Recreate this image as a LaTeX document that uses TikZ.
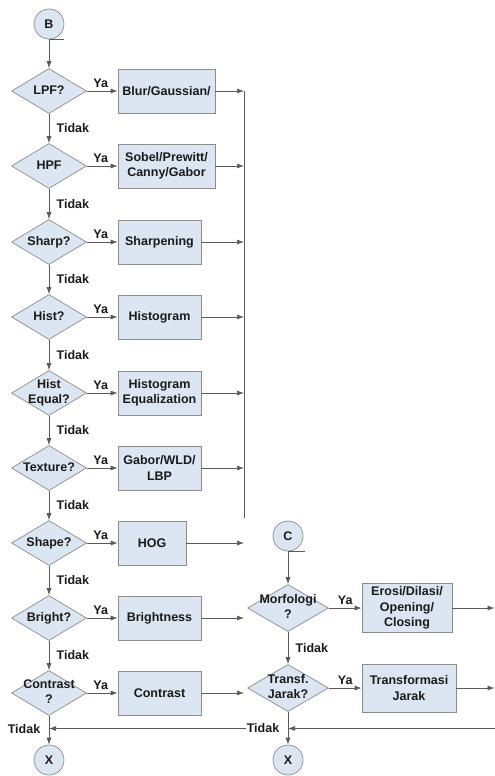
\documentclass[tikz,border=0pt]{standalone}
\usepackage{fontspec}
\setmainfont{Liberation Sans}
\usetikzlibrary{shapes.geometric,arrows.meta}
\definecolor{fillc}{HTML}{DCE6F2}
\definecolor{edgec}{HTML}{8C8C8C}
\definecolor{linec}{HTML}{5A5A5A}
\definecolor{txtc}{HTML}{1A1A1A}
\newcommand\zt[1]{\makebox[0pt]{\begin{tabular}{@{}c@{}}#1\end{tabular}}}
\begin{document}
\begin{tikzpicture}[x=1pt,y=-1pt,
  every node/.style={font=\fontsize{12.5}{15.5}\selectfont\bfseries, text=txtc},
  dec/.style={diamond, draw=edgec, fill=fillc, line width=0.7pt, inner sep=0pt, minimum width=75pt, minimum height=45pt},
  decr/.style={dec, minimum width=81pt, minimum height=47pt},
  proc/.style={rectangle, draw=edgec, fill=fillc, line width=0.7pt, inner sep=0pt, minimum height=44pt, align=center},
  conn/.style={circle, draw=edgec, fill=fillc, line width=0.7pt, minimum size=30pt, inner sep=0pt},
  arr/.style={draw=linec, line width=0.7pt, -{Latex[length=7pt,width=5pt]}},
  ln/.style={draw=linec, line width=0.7pt},
  ya/.style={above, inner sep=3pt},
  tdk/.style={anchor=west, xshift=4pt},
]
\useasboundingbox (0,0) rectangle (495,776);

% left column
\node[conn] (B) at (49,24) {B};
\node[dec] (q1) at (49,91) {\zt{LPF?}};
\node[dec] (q2) at (49,166) {\zt{HPF}};
\node[dec] (q3) at (49,242) {\zt{Sharp?}};
\node[dec] (q4) at (49,317) {\zt{Hist?}};
\node[dec] (q5) at (49,393) {\zt{Hist\\Equal?}};
\node[dec] (q6) at (49,468) {\zt{Texture?}};
\node[dec] (q7) at (49,543) {\zt{Shape?}};
\node[dec] (q8) at (49,618) {\zt{Bright?}};
\node[dec] (q9) at (49,693) {\zt{Contrast\\?}};
\node[conn] (X1) at (49,760) {X};

\node[proc, minimum width=97pt] (p1) at (166.5,91) {Blur/Gaussian/};
\node[proc, minimum width=97pt] (p2) at (166.5,166) {Sobel/Prewitt/\\Canny/Gabor};
\node[proc, minimum width=83pt] (p3) at (159.5,242) {Sharpening};
\node[proc, minimum width=83pt] (p4) at (159.5,317) {Histogram};
\node[proc, minimum width=83pt] (p5) at (159.5,393) {Histogram\\Equalization};
\node[proc, minimum width=83pt] (p6) at (159.5,468) {Gabor/WLD/\\LBP};
\node[proc, minimum width=68pt] (p7) at (152,543) {HOG};
\node[proc, minimum width=83pt] (p8) at (159.5,618) {Brightness};
\node[proc, minimum width=83pt] (p9) at (159.5,693) {Contrast};

\coordinate (bus1) at (244,91);
\coordinate (bus2) at (244,518);
\draw[ln] (bus1) -- (bus2);

\draw[ln] (B.south) -- ++(15,0);
\draw[arr] (B) -- (q1);
\foreach \a/\b in {q1/q2,q2/q3,q3/q4,q4/q5,q5/q6,q6/q7,q7/q8,q8/q9}{
  \draw[arr] (\a) -- node[tdk]{Tidak} (\b);
}
\foreach \q/\p in {q1/p1,q2/p2,q3/p3,q4/p4,q5/p5,q6/p6,q7/p7,q8/p8,q9/p9}{
  \draw[arr] (\q) -- node[ya,pos=0.45]{Ya} (\p);
  \draw[arr] (\p.east) -- (\p.east -| bus1);
}
\draw[arr] (q9) -- (X1);
\node (tdk1) at (24,729.5) {Tidak};

% right column
\node[conn] (C) at (288,536) {C};
\node[decr] (m1) at (288,608) {\zt{Morfologi\\?}};
\node[decr] (t1) at (288,688) {\zt{Transf.\\Jarak?}};
\node[proc, minimum width=90pt, minimum height=49pt] (r1) at (407,608) {Erosi/Dilasi/\\Opening/\\Closing};
\node[proc, minimum width=94pt, minimum height=48pt] (r2) at (409,688) {Transformasi\\Jarak};
\node[conn] (X2) at (288,760) {X};

\coordinate (edgeR) at (494.5,0);
\coordinate (in1) at (495,728.5);

\draw[ln] (C.south) -- ++(17,0);
\draw[arr] (C) -- (m1);
\draw[arr] (m1) -- node[tdk]{Tidak} (t1);
\draw[arr] (m1) -- node[ya]{Ya} (r1);
\draw[arr] (t1) -- node[ya]{Ya} (r2);
\draw[arr] (r1.east) -- (r1.east -| edgeR);
\draw[arr] (r2.east) -- (r2.east -| edgeR);
\draw[arr] (t1) -- (X2);
\draw[arr] (in1) -- (in1 -| t1);
\node[fill=white, inner sep=0.5pt] (tdk2) at (263,728.5) {Tidak};
\draw[arr] (tdk2.west) -- (tdk2.west -| X1);
\end{tikzpicture}
\end{document}
